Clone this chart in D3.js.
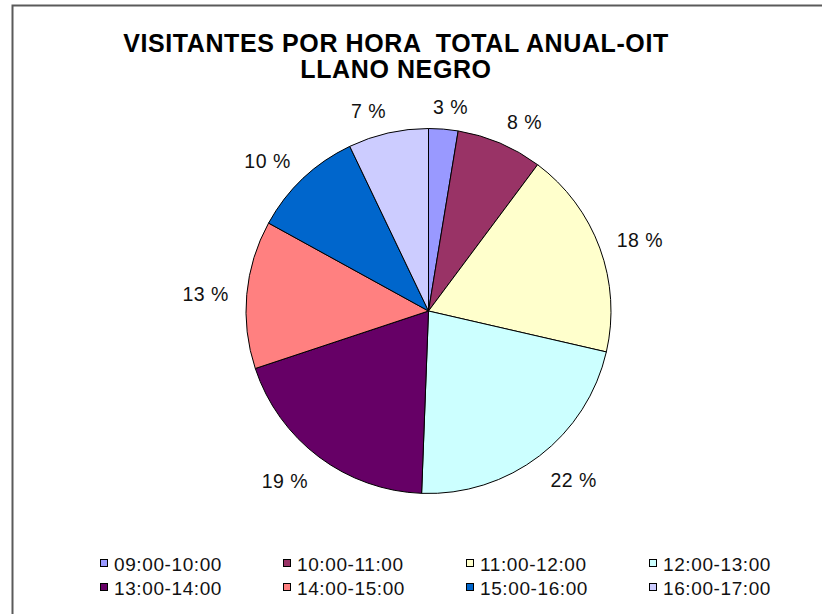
<!DOCTYPE html>
<html lang="es">
<head>
    <meta charset="UTF-8">
    <title>Visitantes por hora</title>
    <script src="https://d3js.org/d3.v7.min.js"></script>
    <style>
        body { margin: 0; background: #fff; }
        text { font-family: "Liberation Sans", Arial, sans-serif; fill: #000; }
        .title { font-size: 25px; font-weight: bold; letter-spacing: 0.6px; white-space: pre; }
        .label { font-size: 19.5px; letter-spacing: 0.5px; fill: #111; }
        .legend text { font-size: 19px; letter-spacing: 0.6px; fill: #111; }
        .slice { stroke: #000; stroke-width: 1px; }
    </style>
</head>
<body>
<svg id="chart" width="822" height="614"></svg>

<script>
    // data
    const titleLines = ["VISITANTES POR HORA  TOTAL ANUAL-OIT", "LLANO NEGRO"];
    const categories = ["09:00-10:00", "10:00-11:00", "11:00-12:00", "12:00-13:00",
                        "13:00-14:00", "14:00-15:00", "15:00-16:00", "16:00-17:00"];
    const values = [2.6, 7.6, 18.4, 22.0, 19.3, 13.1, 9.9, 7.1];
    const colors = ["#9999FF", "#993366", "#FFFFCC", "#CCFFFF",
                    "#660066", "#FF8080", "#0066CC", "#CCCCFF"];

    const width = 822, height = 614;
    const cx = 428.5, cy = 311, radius = 182.5;

    const svg = d3.select("#chart");

    // chart frame (runs off the right and bottom edge)
    svg.append("rect")
        .attr("x", 12.5).attr("y", 5.5)
        .attr("width", 830).attr("height", 630)
        .attr("fill", "none")
        .attr("stroke", "#5a5a5a")
        .attr("stroke-width", 2);

    // title
    svg.selectAll(".title")
        .data(titleLines)
        .enter().append("text")
        .attr("class", "title")
        .attr("x", 396)
        .attr("y", (d, i) => 52 + i * 26)
        .attr("text-anchor", "middle")
        .text(d => d);

    const total = d3.sum(values);
    const pie = d3.pie().sort(null).value(d => d);
    const arc = d3.arc().innerRadius(0).outerRadius(radius);
    const arcs = pie(values);

    const g = svg.append("g").attr("transform", `translate(${cx},${cy})`);

    g.selectAll(".slice")
        .data(arcs)
        .enter().append("path")
        .attr("class", "slice")
        .attr("d", arc)
        .attr("fill", (d, i) => colors[i]);

    // percentage labels outside the pie
    const clamp = v => Math.max(-1, Math.min(1, v));
    g.selectAll(".label")
        .data(arcs)
        .enter().append("text")
        .attr("class", "label")
        .attr("text-anchor", "middle")
        .text(d => Math.round(d.value / total * 100) + " %")
        .each(function(d) {
            const a = (d.startAngle + d.endAngle) / 2;
            const hw = this.getComputedTextLength() / 2;
            const hh = 7;
            const rr = radius + 18;
            const x = rr * Math.sin(a) + hw * clamp(4 * Math.sin(a));
            const y = -rr * Math.cos(a) + hh * clamp(-2 * Math.cos(a));
            d3.select(this).attr("x", x).attr("y", y + 9.5);
        });

    // legend, 4 columns x 2 rows
    const colX = [100, 283, 466, 649];
    const rowY = [571, 595];
    const legend = svg.append("g").attr("class", "legend")
        .selectAll("g")
        .data(categories)
        .enter().append("g")
        .attr("transform", (d, i) => `translate(${colX[i % 4]},${rowY[Math.floor(i / 4)]})`);

    legend.append("rect")
        .attr("x", 0.5).attr("y", -11.5)
        .attr("width", 7).attr("height", 7)
        .attr("fill", (d, i) => colors[i])
        .attr("stroke", "#000")
        .attr("stroke-width", 1);

    legend.append("text")
        .attr("x", 14)
        .attr("y", 0)
        .text(d => d);
</script>
</body>
</html>
